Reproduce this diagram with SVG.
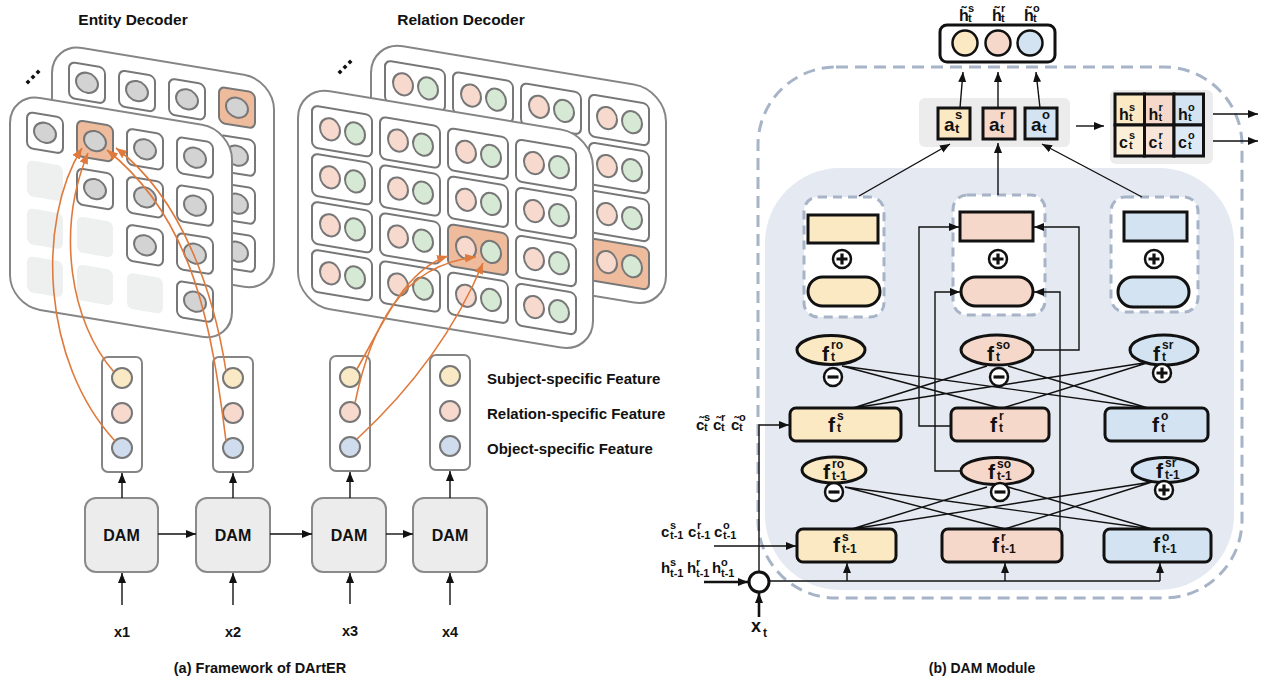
<svg xmlns="http://www.w3.org/2000/svg" width="1267" height="685" viewBox="0 0 1267 685">
<style>
text{font-family:"Liberation Sans",Arial,Helvetica,sans-serif;font-weight:bold;fill:#111}
.ttl{font-size:15.5px;text-anchor:middle}
.lg{font-size:15px}
.cap{font-size:14.5px;text-anchor:middle}
.damt{font-size:16px;text-anchor:middle}
.xl{font-size:14.5px;text-anchor:middle}
.dam{fill:#ececec;stroke:#8a8a8a;stroke-width:2}
.panel{fill:#fff;stroke:#858585;stroke-width:2}
.cell{fill:#fff;stroke:#777;stroke-width:2}
.ocell{fill:#eebb9c;stroke:#777;stroke-width:2}
.ph{fill:#eef0f0}
.gc{fill:#d3d3d3;stroke:#777;stroke-width:2}
.pk{fill:#f7dacd;stroke:#777;stroke-width:2}
.gr{fill:#d6e9d4;stroke:#777;stroke-width:2}
.cy{fill:#f9e9c5;stroke:#777;stroke-width:2}
.cp{fill:#f7dacd;stroke:#777;stroke-width:2}
.cb{fill:#cfdcee;stroke:#777;stroke-width:2}
.col{fill:#fff;stroke:#858585;stroke-width:2}
.or{fill:none;stroke:#e07a3c;stroke-width:1.6;marker-end:url(#ao)}
.ln{fill:none;stroke:#111;stroke-width:1.4}
.ar{fill:none;stroke:#111;stroke-width:1.4;marker-end:url(#ab)}
.art{fill:none;stroke:#111;stroke-width:2.6;marker-end:url(#ab)}
.dash{fill:none;stroke:#a7b4c8;stroke-width:3;stroke-dasharray:12 7}
.wb{fill:#fff;stroke:#a7b4c8;stroke-width:3;stroke-dasharray:9 6}
.bx{stroke:#111;stroke-width:3}
.Y{fill:#fae9c3}.P{fill:#f6d8ca}.B{fill:#d3e3f1}
.Y2{fill:#fcefd8}.P2{fill:#f9e4da}.B2{fill:#dde9f4}
.fm{font-size:21px}.fs{font-size:12px}
.am{font-size:19px}.as{font-size:13px}
.hm{font-size:16px}.hs{font-size:11px}
.im{font-size:15px}.is{font-size:11px}
</style>
<defs>
<marker id="ab" viewBox="0 0 10 10" refX="10" refY="5" markerWidth="10" markerHeight="10" markerUnits="userSpaceOnUse" orient="auto"><path d="M0,1 L10,5 L0,9 z" fill="#111"/></marker>
<marker id="ao" viewBox="0 0 10 10" refX="10" refY="5" markerWidth="11" markerHeight="11" markerUnits="userSpaceOnUse" orient="auto"><path d="M0,1 L10,5 L0,9 z" fill="#e07a3c"/></marker>
<g id="ec"><rect width="36" height="36" rx="6" class="cell"/><ellipse cx="18" cy="18" rx="11" ry="10" class="gc"/></g>
<g id="eco"><rect width="36" height="36" rx="6" class="ocell"/><ellipse cx="18" cy="18" rx="11" ry="10" class="gc"/></g>
<rect id="eph" width="36" height="36" rx="6" class="ph"/>
<g id="rc"><rect width="60" height="42" rx="6" class="cell"/><ellipse cx="18" cy="21" rx="10" ry="11" class="pk"/><ellipse cx="43" cy="21" rx="10" ry="11" class="gr"/></g>
<g id="rco"><rect width="60" height="42" rx="6" class="ocell"/><ellipse cx="18" cy="21" rx="10" ry="11" class="pk"/><ellipse cx="43" cy="21" rx="10" ry="11" class="gr"/></g>
<g id="minus"><circle r="9" fill="#fff" stroke="#111" stroke-width="2.5"/><path d="M-5.5,0H5.5" stroke="#111" stroke-width="3.2"/></g>
<g id="plus"><circle r="9" fill="#fff" stroke="#111" stroke-width="2.5"/><path d="M-5.5,0H5.5M0,-5.5V5.5" stroke="#111" stroke-width="3.2"/></g>
<g id="dots" fill="#111"><path d="M0,-2.5L2.5,0L0,2.5L-2.5,0z"/><path d="M5,-7.5L7.5,-5L5,-2.5L2.5,-5z"/><path d="M10,-12.5L12.5,-10L10,-7.5L7.5,-10z"/></g>
</defs>
<rect width="1267" height="685" fill="#fff"/>

<!-- ===== (a) Framework ===== -->
<text class="ttl" x="133" y="25">Entity Decoder</text>
<text class="ttl" x="461" y="25">Relation Decoder</text>

<g id="entity-back" transform="translate(52,43) skewY(9.4)">
<rect width="222" height="212" rx="30" class="panel"/>
<use href="#ec" x="17" y="16"/><use href="#ec" x="67" y="16"/><use href="#ec" x="117" y="16"/><use href="#eco" x="167" y="16"/>
<use href="#eph" x="17" y="64"/><use href="#ec" x="67" y="64"/><use href="#ec" x="117" y="64"/><use href="#ec" x="167" y="64"/>
<use href="#eph" x="17" y="112"/><use href="#eph" x="67" y="112"/><use href="#ec" x="117" y="112"/><use href="#ec" x="167" y="112"/>
<use href="#eph" x="17" y="160"/><use href="#eph" x="67" y="160"/><use href="#eph" x="117" y="160"/><use href="#ec" x="167" y="160"/>
</g>
<g id="entity-dots" transform="translate(28,82)"><use href="#dots"/></g>
<g id="entity-front" transform="translate(10,93) skewY(9.4)">
<rect width="222" height="212" rx="30" class="panel"/>
<use href="#ec" x="17" y="16"/><use href="#eco" x="67" y="16"/><use href="#ec" x="117" y="16"/><use href="#ec" x="167" y="16"/>
<use href="#eph" x="17" y="64"/><use href="#ec" x="67" y="64"/><use href="#ec" x="117" y="64"/><use href="#ec" x="167" y="64"/>
<use href="#eph" x="17" y="112"/><use href="#eph" x="67" y="112"/><use href="#ec" x="117" y="112"/><use href="#ec" x="167" y="112"/>
<use href="#eph" x="17" y="160"/><use href="#eph" x="67" y="160"/><use href="#eph" x="117" y="160"/><use href="#ec" x="167" y="160"/>
</g>

<g id="relation-back" transform="translate(371,41) skewY(9.4)">
<rect width="295" height="218" rx="32" class="panel"/>
<use href="#rc" x="14" y="17"/><use href="#rc" x="82" y="17"/><use href="#rc" x="150" y="17"/><use href="#rc" x="218" y="17"/>
<use href="#rc" x="14" y="65"/><use href="#rc" x="82" y="65"/><use href="#rc" x="150" y="65"/><use href="#rc" x="218" y="65"/>
<use href="#rc" x="14" y="113"/><use href="#rc" x="82" y="113"/><use href="#rc" x="150" y="113"/><use href="#rc" x="218" y="113"/>
<use href="#rc" x="14" y="161"/><use href="#rc" x="82" y="161"/><use href="#rc" x="150" y="161"/><use href="#rco" x="218" y="161"/>
</g>
<g id="relation-dots" transform="translate(340,72)"><use href="#dots"/></g>
<g id="relation-front" transform="translate(298,86) skewY(9.4)">
<rect width="295" height="218" rx="32" class="panel"/>
<use href="#rc" x="14" y="17"/><use href="#rc" x="82" y="17"/><use href="#rc" x="150" y="17"/><use href="#rc" x="218" y="17"/>
<use href="#rc" x="14" y="65"/><use href="#rc" x="82" y="65"/><use href="#rc" x="150" y="65"/><use href="#rc" x="218" y="65"/>
<use href="#rc" x="14" y="113"/><use href="#rc" x="82" y="113"/><use href="#rco" x="150" y="113"/><use href="#rc" x="218" y="113"/>
<use href="#rc" x="14" y="161"/><use href="#rc" x="82" y="161"/><use href="#rc" x="150" y="161"/><use href="#rc" x="218" y="161"/>
</g>

<g id="feat1"><rect x="102" y="357" width="40" height="115" rx="6" class="col"/><circle cx="122" cy="378" r="10" class="cy"/><circle cx="122" cy="413" r="10" class="cp"/><circle cx="122" cy="448" r="10" class="cb"/></g>
<g id="feat2"><rect x="213" y="357" width="40" height="115" rx="6" class="col"/><circle cx="233" cy="378" r="10" class="cy"/><circle cx="233" cy="413" r="10" class="cp"/><circle cx="233" cy="448" r="10" class="cb"/></g>
<g id="feat3"><rect x="330" y="356" width="40" height="115" rx="6" class="col"/><circle cx="350" cy="377" r="10" class="cy"/><circle cx="350" cy="412" r="10" class="cp"/><circle cx="350" cy="447" r="10" class="cb"/></g>
<g id="feat4"><rect x="430" y="355" width="40" height="115" rx="6" class="col"/><circle cx="450" cy="376" r="10" class="cy"/><circle cx="450" cy="411" r="10" class="cp"/><circle cx="450" cy="446" r="10" class="cb"/></g>

<g id="legend">
<text class="lg" x="487" y="384">Subject-specific Feature</text>
<text class="lg" x="487" y="419">Relation-specific Feature</text>
<text class="lg" x="487" y="454">Object-specific Feature</text>
</g>

<g id="dam1"><rect x="85" y="498" width="73" height="74" rx="11" class="dam"/><text class="damt" x="121.5" y="541">DAM</text></g>
<g id="dam2"><rect x="196" y="498" width="74" height="74" rx="11" class="dam"/><text class="damt" x="233" y="541">DAM</text></g>
<g id="dam3"><rect x="312" y="498" width="74" height="74" rx="11" class="dam"/><text class="damt" x="349" y="541">DAM</text></g>
<g id="dam4"><rect x="413" y="498" width="74" height="74" rx="11" class="dam"/><text class="damt" x="450" y="541">DAM</text></g>

<g id="inputs-a">
<text class="xl" x="122" y="637">x1</text>
<text class="xl" x="233" y="637">x2</text>
<text class="xl" x="350" y="636">x3</text>
<text class="xl" x="450" y="637">x4</text>
</g>
<text class="cap" x="260" y="673">(a)  Framework of DArtER</text>

<g id="connectors-a">
<path class="ar" d="M158,534H196"/>
<path class="ar" d="M270,534H312"/>
<path class="ar" d="M386,534H413"/>
<path class="ar" d="M122,498V473"/>
<path class="ar" d="M233,498V473"/>
<path class="ar" d="M350,498V472"/>
<path class="ar" d="M450,498V471"/>
<path class="ar" d="M122,605V573"/>
<path class="ar" d="M233,605V573"/>
<path class="ar" d="M350,604V573"/>
<path class="ar" d="M450,605V573"/>
<path class="or" d="M115,441C42,362 36,222 82,148"/>
<path class="or" d="M114,372C70,322 56,230 88,153"/>
<path class="or" d="M226,441C212,330 195,220 107,150"/>
<path class="or" d="M226,371C215,300 185,200 116,148"/>
<path class="or" d="M357,369C385,320 405,270 448,256"/>
<path class="or" d="M355,403C370,330 400,265 476,257"/>
<path class="or" d="M357,439C410,390 455,330 483,263"/>
</g>

<!-- ===== (b) DAM Module ===== -->
<g id="dam-module-bg">
<rect x="758" y="67" width="484" height="531" rx="78" class="dash"/>
<rect x="765" y="168" width="469" height="422" rx="75" fill="#e5e9f1"/>
<rect x="919" y="98" width="151" height="49" rx="6" fill="#ececec"/>
<rect x="1110" y="90" width="103" height="74" rx="6" fill="#ececec"/>
<rect x="804" y="197" width="80" height="120" rx="14" class="wb"/>
<rect x="953" y="195" width="92" height="120" rx="14" class="wb"/>
<rect x="1111" y="197" width="87" height="115" rx="14" class="wb"/>
</g>

<g id="connectors-b">
<path class="ar" d="M960,108L963,72"/>
<path class="ar" d="M998,108V72"/>
<path class="ar" d="M1040,108L1036,72"/>
<path class="ar" d="M859,196L950,144"/>
<path class="ar" d="M998,195V143"/>
<path class="ar" d="M1142,197L1042,144"/>
<path class="ar" d="M1076,126H1104"/>
<path class="ar" d="M1213,114H1258"/>
<path class="ar" d="M1213,141H1258"/>
<path class="ar" d="M950,426H919V227H959"/>
<path class="ar" d="M962,471H935V292H960"/>
<path class="ar" d="M1034,350H1079V227H1034"/>
<path class="ar" d="M1060,529V292H1034"/>
<path class="ln" d="M842,366L1000,408M842,366L1148,408M987,366L853,408M1008,366L1148,408M1150,362L853,408M1150,362L1003,408"/>
<path class="ln" d="M845,487L1005,529M845,487L1152,529M987,487L852,529M1008,487L1152,529M1152,482L852,529M1152,482L1005,529"/>
<path class="ar" d="M759,572V425H789"/>
<path class="ar" d="M714,546H796"/>
<path class="art" d="M704,582H748"/>
<path class="art" d="M759,617V593"/>
<path class="ln" d="M769,581H1160"/>
<path class="ar" d="M847,581V563"/>
<path class="ar" d="M1005,581V563"/>
<path class="ar" d="M1160,581V563"/>
</g>

<g id="out-h">
<rect x="940" y="25" width="115" height="37" rx="7" fill="#fff" class="bx"/>
<circle cx="965" cy="43" r="12.5" class="Y" stroke="#111" stroke-width="2.5"/>
<circle cx="998" cy="43" r="12.5" class="P" stroke="#111" stroke-width="2.5"/>
<circle cx="1030" cy="43" r="12.5" class="B" stroke="#111" stroke-width="2.5"/>
<text class="hm" x="959" y="21">h&#x303;<tspan class="hs" x="968" y="12">s</tspan><tspan class="hs" x="968" y="22">t</tspan></text>
<text class="hm" x="992" y="21">h&#x303;<tspan class="hs" x="1001" y="12">r</tspan><tspan class="hs" x="1001" y="22">t</tspan></text>
<text class="hm" x="1024" y="21">h&#x303;<tspan class="hs" x="1033" y="12">o</tspan><tspan class="hs" x="1033" y="22">t</tspan></text>
</g>

<g id="a-s"><rect x="938" y="108" width="32" height="31" class="bx Y"/><text class="am" x="944" y="131">a<tspan class="as" x="955" y="119">s</tspan><tspan class="as" x="955" y="133">t</tspan></text></g>
<g id="a-r"><rect x="983" y="108" width="32" height="31" class="bx P"/><text class="am" x="989" y="131">a<tspan class="as" x="1000" y="119">r</tspan><tspan class="as" x="1000" y="133">t</tspan></text></g>
<g id="a-o"><rect x="1025" y="108" width="32" height="31" class="bx B"/><text class="am" x="1031" y="131">a<tspan class="as" x="1042" y="119">o</tspan><tspan class="as" x="1042" y="133">t</tspan></text></g>

<g id="state-grid">
<rect x="1115" y="94" width="29.5" height="31" class="bx Y"/>
<rect x="1144.5" y="94" width="29.5" height="31" class="bx P"/>
<rect x="1174" y="94" width="29.5" height="31" class="bx B"/>
<rect x="1115" y="125" width="29.5" height="31" class="bx Y2"/>
<rect x="1144.5" y="125" width="29.5" height="31" class="bx P2"/>
<rect x="1174" y="125" width="29.5" height="31" class="bx B2"/>
<text class="hm" x="1119" y="120">h<tspan class="hs" x="1129" y="111">s</tspan><tspan class="hs" x="1129" y="121">t</tspan></text>
<text class="hm" x="1148.5" y="120">h<tspan class="hs" x="1158.5" y="111">r</tspan><tspan class="hs" x="1158.5" y="121">t</tspan></text>
<text class="hm" x="1178" y="120">h<tspan class="hs" x="1188" y="111">o</tspan><tspan class="hs" x="1188" y="121">t</tspan></text>
<text class="hm" x="1119" y="148">c<tspan class="hs" x="1129" y="139">s</tspan><tspan class="hs" x="1129" y="149">t</tspan></text>
<text class="hm" x="1148.5" y="148">c<tspan class="hs" x="1158.5" y="139">r</tspan><tspan class="hs" x="1158.5" y="149">t</tspan></text>
<text class="hm" x="1178" y="148">c<tspan class="hs" x="1188" y="139">o</tspan><tspan class="hs" x="1188" y="149">t</tspan></text>
</g>

<g id="gate-s"><rect x="808" y="215" width="70" height="28" class="bx Y"/><use href="#plus" x="842" y="259"/><rect x="808" y="277" width="72" height="29" rx="14.5" class="bx Y"/></g>
<g id="gate-r"><rect x="960" y="212" width="73" height="29" class="bx P"/><use href="#plus" x="998" y="259"/><rect x="961" y="277" width="72" height="29" rx="14.5" class="bx P"/></g>
<g id="gate-o"><rect x="1124" y="212" width="63" height="29" class="bx B"/><use href="#plus" x="1154" y="259"/><rect x="1118" y="277" width="71" height="30" rx="15" class="bx B"/></g>

<g id="ft-ro"><ellipse cx="831" cy="350" rx="34" ry="14.5" class="bx Y"/><text class="fm" x="822" y="361">f<tspan class="fs" x="831" y="349">ro</tspan><tspan class="fs" x="831" y="361">t</tspan></text><use href="#minus" x="833" y="377"/></g>
<g id="ft-so"><ellipse cx="997" cy="350" rx="36" ry="15" class="bx P"/><text class="fm" x="987" y="361">f<tspan class="fs" x="996" y="349">so</tspan><tspan class="fs" x="996" y="361">t</tspan></text><use href="#minus" x="999" y="377"/></g>
<g id="ft-sr"><ellipse cx="1164" cy="350" rx="34" ry="15" class="bx B"/><text class="fm" x="1153" y="361">f<tspan class="fs" x="1162" y="349">sr</tspan><tspan class="fs" x="1162" y="361">t</tspan></text><use href="#plus" x="1162" y="373"/></g>

<g id="ft-s"><rect x="790" y="408" width="111" height="33" rx="6" class="bx Y"/><text class="fm" x="828" y="432">f<tspan class="fs" x="837" y="420">s</tspan><tspan class="fs" x="837" y="432">t</tspan></text></g>
<g id="ft-r"><rect x="951" y="408" width="98" height="33" rx="6" class="bx P"/><text class="fm" x="990" y="432">f<tspan class="fs" x="999" y="420">r</tspan><tspan class="fs" x="999" y="432">t</tspan></text></g>
<g id="ft-o"><rect x="1105" y="408" width="103" height="33" rx="6" class="bx B"/><text class="fm" x="1152" y="432">f<tspan class="fs" x="1161" y="420">o</tspan><tspan class="fs" x="1161" y="432">t</tspan></text></g>

<g id="ft1-ro"><ellipse cx="834" cy="470" rx="32" ry="13" class="bx Y"/><text class="fm" x="823" y="479">f<tspan class="fs" x="832" y="468">ro</tspan><tspan class="fs" x="832" y="480">t-1</tspan></text><use href="#minus" x="834" y="492"/></g>
<g id="ft1-so"><ellipse cx="997" cy="471" rx="36" ry="13.5" class="bx P"/><text class="fm" x="988" y="479">f<tspan class="fs" x="997" y="468">so</tspan><tspan class="fs" x="997" y="480">t-1</tspan></text><use href="#minus" x="1000" y="492"/></g>
<g id="ft1-sr"><ellipse cx="1165" cy="470" rx="33" ry="12.5" class="bx B"/><text class="fm" x="1156" y="478">f<tspan class="fs" x="1165" y="467">sr</tspan><tspan class="fs" x="1165" y="479">t-1</tspan></text><use href="#plus" x="1164" y="490"/></g>

<g id="ft1-s"><rect x="797" y="529" width="99" height="33" rx="6" class="bx Y"/><text class="fm" x="833" y="552">f<tspan class="fs" x="842" y="541">s</tspan><tspan class="fs" x="842" y="553">t-1</tspan></text></g>
<g id="ft1-r"><rect x="942" y="529" width="120" height="33" rx="6" class="bx P"/><text class="fm" x="992" y="552">f<tspan class="fs" x="1001" y="541">r</tspan><tspan class="fs" x="1001" y="553">t-1</tspan></text></g>
<g id="ft1-o"><rect x="1104" y="529" width="107" height="33" rx="6" class="bx B"/><text class="fm" x="1153" y="552">f<tspan class="fs" x="1162" y="541">o</tspan><tspan class="fs" x="1162" y="553">t-1</tspan></text></g>

<g id="mix"><circle cx="759" cy="582" r="10" fill="#fff" stroke="#111" stroke-width="3"/></g>

<g id="in-ctilde">
<text class="im" x="696" y="430">c&#x303;<tspan class="is" x="704" y="421">s</tspan><tspan class="is" x="704" y="431">t</tspan><tspan x="713" y="430">c&#x303;</tspan><tspan class="is" x="721" y="421">r</tspan><tspan class="is" x="721" y="431">t</tspan><tspan x="731" y="430">c&#x303;</tspan><tspan class="is" x="739" y="421">o</tspan><tspan class="is" x="739" y="431">t</tspan></text>
</g>
<g id="in-c">
<text class="im" x="661" y="537">c<tspan class="is" x="670" y="529">s</tspan><tspan class="is" x="670" y="539">t-1</tspan><tspan x="688" y="537">c</tspan><tspan class="is" x="697" y="529">r</tspan><tspan class="is" x="697" y="539">t-1</tspan><tspan x="714" y="537">c</tspan><tspan class="is" x="723" y="529">o</tspan><tspan class="is" x="723" y="539">t-1</tspan></text>
</g>
<g id="in-h">
<text class="im" x="661" y="573">h<tspan class="is" x="670" y="566">s</tspan><tspan class="is" x="670" y="577">t-1</tspan><tspan x="687" y="573">h</tspan><tspan class="is" x="696" y="566">r</tspan><tspan class="is" x="696" y="577">t-1</tspan><tspan x="712" y="573">h</tspan><tspan class="is" x="721" y="566">o</tspan><tspan class="is" x="721" y="577">t-1</tspan></text>
</g>
<g id="in-x"><text class="fm" x="751" y="632" style="font-size:18px">x<tspan class="fs" x="763" y="637">t</tspan></text></g>

<text class="ttl" x="982" y="673" style="font-size:14px">(b) DAM Module</text>
</svg>
